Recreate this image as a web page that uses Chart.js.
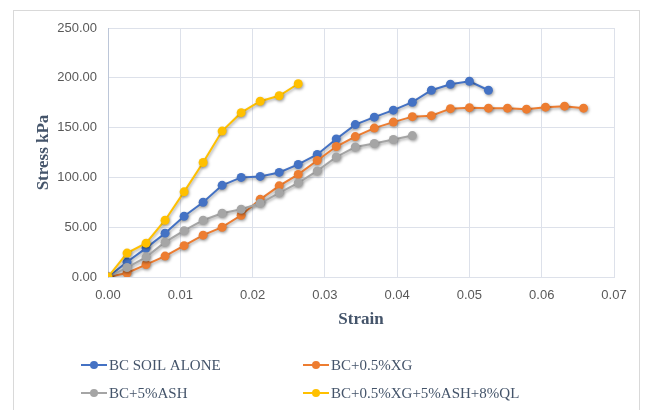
<!DOCTYPE html>
<html>
<head>
<meta charset="utf-8">
<script src="https://cdn.jsdelivr.net/npm/chart.js"></script>
<style>
  body { margin: 0; background: #fff; }
  #wrap { width: 649px; height: 410px; }
</style>
</head>
<body>
<div id="wrap"><canvas id="StressChart" width="649" height="410"></canvas></div>
<script>
// strain (x) shared by all series
var strain = [0, 0.002632, 0.005263, 0.007895, 0.010526, 0.013158, 0.015789, 0.018421, 0.021053, 0.023684,
  0.026316, 0.028947, 0.031579, 0.034211, 0.036842, 0.039474, 0.042105, 0.044737, 0.047368, 0.05,
  0.052632, 0.055263, 0.057895, 0.060526, 0.063158, 0.065789];

// stress kPa for each mix
var soilAlone = [0, 15, 29, 44, 61, 75, 92, 100, 101, 105, 113, 123, 138.5, 153, 160.5, 167.5, 175.5, 187.5, 193.5, 196.5, 187.5];
var xg = [0, 4, 12.5, 21, 31.5, 42, 50, 62, 78, 91.5, 103, 117, 131, 141, 149.5, 155.5, 161, 162, 169, 170, 169.5, 169.5, 168.5, 170.5, 171.5, 169.5];
var ash = [0, 9.5, 20, 35, 46.5, 57, 64, 68, 74, 84.5, 94.5, 106.5, 120.5, 130.5, 134, 138, 142];
var mixQL = [0, 24, 34, 57, 85.5, 115, 146.5, 165, 176.5, 182, 194];

var seriesNames = ["BC SOIL ALONE", "BC+0.5%XG", "BC+5%ASH", "BC+0.5%XG+5%ASH+8%QL"];
var seriesValues = [soilAlone, xg, ash, mixQL];
var seriesColors = ["#4472C4", "#ED7D31", "#A5A5A5", "#FFC000"];

var yTicks = [0, 50, 100, 150, 200, 250];
var xTicks = [0, 0.01, 0.02, 0.03, 0.04, 0.05, 0.06, 0.07];

function toPoints(vals) {
  return vals.map(function (v, i) { return { x: strain[i], y: v }; });
}

var datasets = seriesValues.map(function (vals, i) {
  return {
    label: seriesNames[i],
    data: toPoints(vals),
    borderColor: seriesColors[i],
    backgroundColor: seriesColors[i],
    borderWidth: 2,
    pointRadius: 4.5,
    pointBorderWidth: 0,
    order: 3 - i // last series on top like excel
  };
});

// frame round the whole chart
var framePlugin = {
  id: 'frame',
  beforeDraw: function (chart) {
    var c = chart.ctx;
    c.save();
    c.fillStyle = '#fff';
    c.fillRect(0, 0, chart.width, chart.height);
    c.strokeStyle = '#d9d9d9';
    c.lineWidth = 1;
    c.strokeRect(13.5, 10.5, 626, 430);
    c.restore();
  }
};

// soft shadow under lines and markers
var shadowPlugin = {
  id: 'shadow',
  beforeDatasetsDraw: function (chart) {
    var c = chart.ctx;
    c.save();
    c.shadowColor = 'rgba(0,0,0,0.35)';
    c.shadowBlur = 3;
    c.shadowOffsetX = 1;
    c.shadowOffsetY = 1.5;
  },
  afterDatasetsDraw: function (chart) {
    chart.ctx.restore();
  }
};

// two column legend under the chart
var legendPlugin = {
  id: 'gridLegend',
  afterDraw: function (chart) {
    var c = chart.ctx;
    var colX = [81, 303];
    var rowY = [365, 393];
    c.save();
    chart.data.datasets.forEach(function (ds, i) {
      var x = colX[i % 2];
      var y = rowY[Math.floor(i / 2)];
      c.strokeStyle = ds.borderColor;
      c.lineWidth = 2;
      c.beginPath();
      c.moveTo(x, y);
      c.lineTo(x + 26, y);
      c.stroke();
      c.fillStyle = ds.borderColor;
      c.beginPath();
      c.arc(x + 13, y, 4, 0, Math.PI * 2);
      c.fill();
      c.fillStyle = '#44546A';
      c.font = '15px "Liberation Serif", serif';
      c.textBaseline = 'middle';
      c.textAlign = 'left';
      c.fillText(ds.label, x + 28, y + 1);
    });
    c.restore();
  }
};

var ctx = document.getElementById('StressChart');

new Chart(ctx, {
  type: 'line',
  data: { datasets: datasets },
  plugins: [framePlugin, shadowPlugin, legendPlugin],
  options: {
    responsive: false,
    animation: false,
    layout: { padding: { left: 0, right: 35, top: 28, bottom: 73 } },
    plugins: {
      legend: { display: false },
      tooltip: { enabled: false }
    },
    scales: {
      x: {
        type: 'linear',
        min: 0,
        max: 0.07,
        afterBuildTicks: function (s) { s.ticks = xTicks.map(function (v) { return { value: v }; }); },
        afterFit: function (s) { s.height = 60; },
        grid: { color: '#dde1ea', drawTicks: false },
        border: { color: '#dde1ea' },
        ticks: {
          padding: 11,
          color: '#595959',
          font: { family: '"Liberation Sans", sans-serif', size: 13 },
          callback: function (v) { return v.toFixed(2); }
        },
        title: {
          display: true,
          text: 'Strain',
          color: '#44546A',
          padding: { top: 0, bottom: 7 },
          font: { family: '"Liberation Serif", serif', size: 17, weight: 'bold' }
        }
      },
      y: {
        min: 0,
        max: 250,
        afterBuildTicks: function (s) { s.ticks = yTicks.map(function (v) { return { value: v }; }); },
        afterFit: function (s) { s.width = 108; },
        grid: { color: '#dde1ea', drawTicks: false },
        border: { color: '#bcc6d8' },
        ticks: {
          padding: 11,
          color: '#595959',
          font: { family: '"Liberation Sans", sans-serif', size: 13 },
          callback: function (v) { return v.toFixed(2); }
        },
        title: {
          display: true,
          text: 'Stress kPa',
          color: '#44546A',
          padding: { top: 33, bottom: 0 },
          font: { family: '"Liberation Serif", serif', size: 17, weight: 'bold' }
        }
      }
    }
  }
});
</script>
</body>
</html>
